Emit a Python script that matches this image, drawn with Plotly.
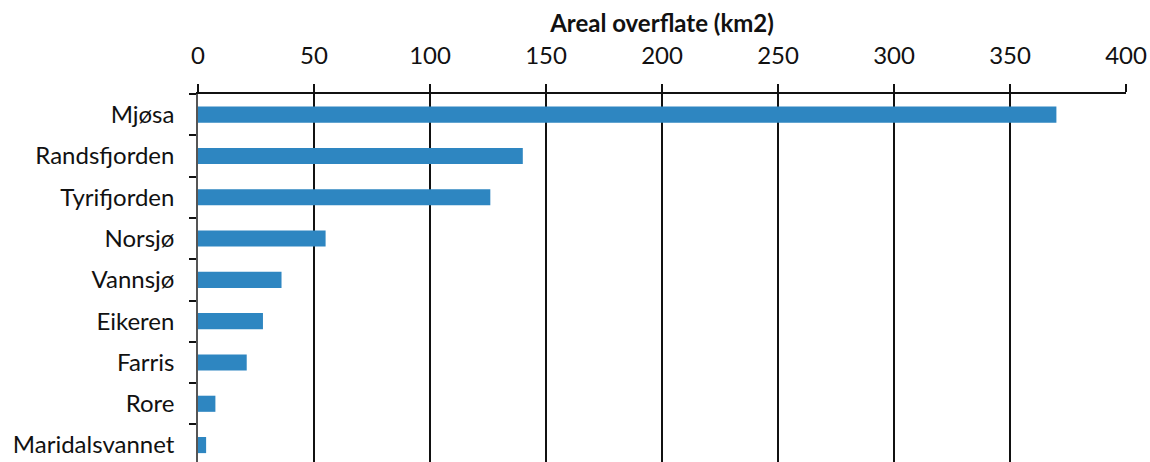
import plotly.graph_objects as go

lakes = ["Mjøsa", "Randsfjorden", "Tyrifjorden", "Norsjø", "Vannsjø",
         "Eikeren", "Farris", "Rore", "Maridalsvannet"]
area_km2 = [370, 140, 126, 55, 36, 28, 21, 7.5, 3.5]
x_ticks = [0, 50, 100, 150, 200, 250, 300, 350, 400]

FONT = "Lato"

fig = go.Figure(
    go.Bar(
        x=area_km2,
        y=lakes,
        orientation="h",
        marker=dict(color="#2e86c1", line=dict(width=0)),
        width=0.39,
    )
)

fig.update_layout(
    width=1150,
    height=462,
    margin=dict(l=198, r=24, t=94, b=0),
    paper_bgcolor="white",
    plot_bgcolor="white",
    showlegend=False,
    font=dict(family=FONT, size=24, color="#111"),
)

fig.update_xaxes(
    side="top",
    range=[0, 400],
    tickvals=x_ticks,
    ticks="outside",
    ticklen=8,
    tickwidth=1.5,
    tickcolor="#111",
    showline=True,
    linecolor="#111",
    linewidth=1.5,
    showgrid=True,
    gridcolor="#111",
    gridwidth=1.5,
    zeroline=False,
    ticklabelstandoff=11,
    tickfont=dict(family=FONT, size=24, color="#111"),
    title=dict(text="<b>Areal overflate (km2)</b>",
               font=dict(family=FONT, size=24, color="#111"), standoff=0),
)

fig.update_yaxes(
    categoryorder="array",
    categoryarray=lakes,
    range=[8.41, -0.5],
    autorange=False,
    ticks="outside",
    tickson="boundaries",
    ticklen=7,
    tickwidth=1.5,
    tickcolor="#111",
    showline=True,
    linecolor="#555",
    linewidth=1.5,
    showgrid=False,
    zeroline=False,
    ticklabelstandoff=17,
    tickfont=dict(family=FONT, size=24, color="#111"),
)

fig.write_html("out.html")
